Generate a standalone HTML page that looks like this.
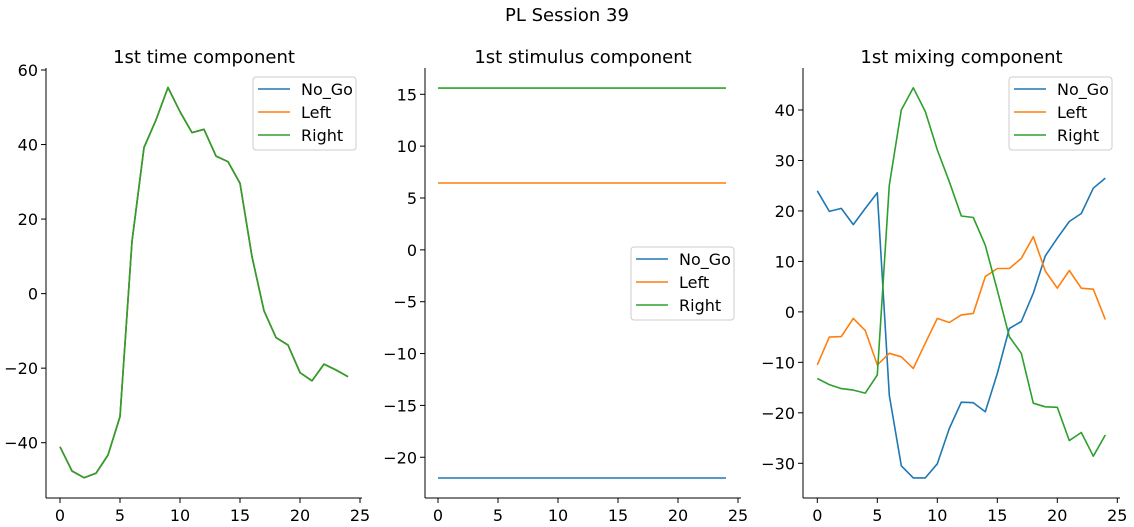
<!DOCTYPE html>
<html><head><meta charset="utf-8">
<style>
body{margin:0;background:#fff;}
svg{display:block;font-family:"DejaVu Sans","Liberation Sans",sans-serif;}
</style></head>
<body>
<svg id="fig" width="1134" height="527" viewBox="0 0 1134 527">
<text x="567" y="21" font-size="18" text-anchor="middle">PL Session 39</text>
</svg>
<script>
const xTicks = [0,5,10,15,20,25];
const seriesNames = ['No_Go','Left','Right'];
const colors = ['#1f77b4','#ff7f0e','#2ca02c'];
const timeNoGo = [-41.1,-47.6,-49.4,-48.2,-43.3,-33,14,39.2,46.6,55.3,48.8,43.2,44.1,36.9,35.4,29.6,9.9,-4.6,-11.8,-13.8,-21.2,-23.4,-18.9,-20.5,-22.3];
const timeLeft = timeNoGo.slice();
const timeRight = timeNoGo.slice();
const stimNoGo = [-22,-22];
const stimLeft = [6.45,6.45];
const stimRight = [15.6,15.6];
const stimX = [0,24];
const mixNoGo = [24.0,19.9,20.5,17.3,20.5,23.6,-16.5,-30.5,-32.9,-32.9,-30.1,-23.1,-17.9,-18.0,-19.8,-12.2,-3.3,-1.9,3.7,11.1,14.6,17.9,19.5,24.5,26.5];
const mixLeft = [-10.5,-5.0,-4.9,-1.3,-3.7,-10.5,-8.2,-8.9,-11.2,-6.2,-1.3,-2.1,-0.6,-0.3,7.0,8.6,8.6,10.6,14.9,8.1,4.7,8.2,4.7,4.5,-1.5];
const mixRight = [-13.2,-14.4,-15.2,-15.5,-16.1,-12.5,25.1,40,44.4,39.7,32.1,25.8,19.0,18.7,13.2,4.3,-4.9,-8.2,-18.1,-18.8,-18.9,-25.5,-23.9,-28.6,-24.4];
const timeYTicks = [60,40,20,0,-20,-40];
const stimYTicks = [15,10,5,0,-5,-10,-15,-20];
const mixYTicks = [40,30,20,10,0,-10,-20,-30];

const NS='http://www.w3.org/2000/svg';
const svg=document.getElementById('fig');
function mk(tag,attrs,parent){const e=document.createElementNS(NS,tag);for(const k in attrs)e.setAttribute(k,attrs[k]);(parent||svg).appendChild(e);return e;}

function panel(cfg){
  const g=mk('g',{});
  
  
  const sx=v=>cfg.x0+v*12;
  const sy=v=>cfg.yRefPx+(cfg.yRef-v)*cfg.yScale;
  const t=mk('text',{x:(cfg.left+cfg.right)/2,y:63,'font-size':18,'text-anchor':'middle'},g);
  t.textContent=cfg.title;
  
  
  const ls=mk('line',{x1:cfg.left,y1:68,x2:cfg.left,y2:498,stroke:'#000','stroke-width':1},g);
  
  
  const bs=mk('line',{x1:cfg.left,y1:498,x2:cfg.right,y2:498,stroke:'#000','stroke-width':1},g);
  
  
  xTicks.forEach(v=>{
    mk('line',{x1:sx(v),y1:498,x2:sx(v),y2:503,stroke:'#000'},g);
    const tl=mk('text',{x:sx(v),y:521,'font-size':16,'text-anchor':'middle'},g);
    tl.textContent=v;
    
    
  });
  cfg.yTicks.forEach(v=>{
    const y=sy(v);
    mk('line',{x1:cfg.left-5,y1:y,x2:cfg.left,y2:y,stroke:'#000'},g);
    const tl=mk('text',{x:cfg.left-8,y:y+6,'font-size':16,'text-anchor':'end'},g);
    tl.textContent=v<0?'\u2212'+(-v):v;
    
    
  });
  cfg.series.forEach((s,i)=>{
    const xs=cfg.xs||s.map((_,j)=>j);
    const pts=s.map((v,j)=>sx(xs[j]).toFixed(1)+','+sy(v).toFixed(1)).join(' ');
    const pl=mk('polyline',{points:pts,fill:'none',stroke:colors[i],'stroke-width':1.6,'stroke-linejoin':'round'},g);
    
    
  });
  const L=cfg.legend;
  const lg=mk('g',{},g);
  
  
  mk('rect',{x:L.x,y:L.y,width:103,height:73,rx:3,fill:'#fff','fill-opacity':0.8,stroke:'#ccc'},lg);
  seriesNames.forEach((n,i)=>{
    const yy=L.y+12+i*23;
    mk('line',{x1:L.x+5,y1:yy,x2:L.x+37,y2:yy,stroke:colors[i],'stroke-width':1.6},lg);
    const tx=mk('text',{x:L.x+48,y:yy+6,'font-size':16},lg);
    tx.textContent=n;
    
    
  });
}

panel({name:'time-panel',title:'1st time component',left:46,right:362,x0:60,yRef:60,yRefPx:70,yScale:3.727,yTicks:timeYTicks,series:[timeNoGo,timeLeft,timeRight],legend:{x:253,y:77}});
panel({name:'stimulus-panel',title:'1st stimulus component',left:425,right:741,x0:438,yRef:15,yRefPx:94.3,yScale:10.37,yTicks:stimYTicks,xs:stimX,series:[stimNoGo,stimLeft,stimRight],legend:{x:631,y:247}});
panel({name:'mixing-panel',title:'1st mixing component',left:803,right:1120,x0:817.3,yRef:40,yRefPx:110,yScale:5.047,yTicks:mixYTicks,series:[mixNoGo,mixLeft,mixRight],legend:{x:1009,y:77}});
</script>
</body></html>
